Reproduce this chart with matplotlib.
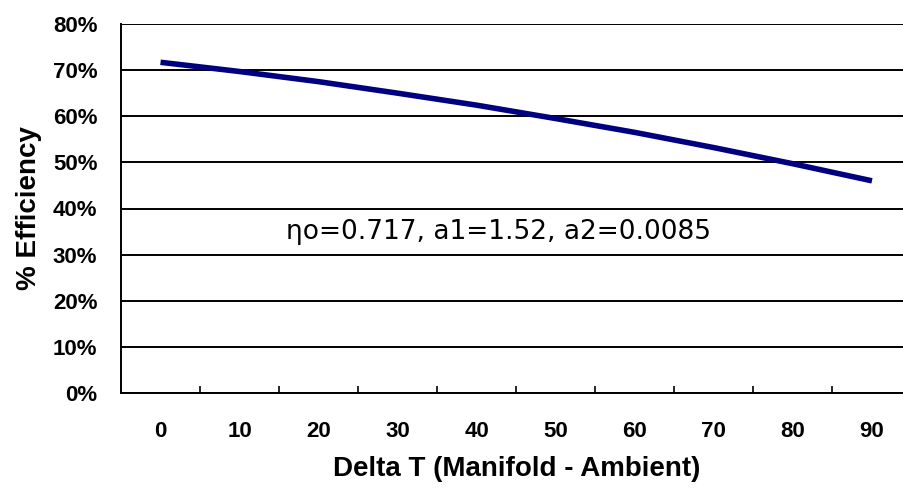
import numpy as np
import matplotlib.pyplot as plt
from matplotlib.ticker import FixedLocator, PercentFormatter

# values
delta_t = [0, 10, 20, 30, 40, 50, 60, 70, 80, 90]
efficiency = [0.717, 0.697, 0.675, 0.650, 0.624, 0.595, 0.565, 0.532, 0.497, 0.460]
y_ticks = [0, 0.1, 0.2, 0.3, 0.4, 0.5, 0.6, 0.7, 0.8]
coef_text = "\u03b7o=0.717, a1=1.52, a2=0.0085"

plt.rcParams["font.family"] = ["Liberation Sans", "DejaVu Sans"]

fig = plt.figure(figsize=(9.04, 4.93), dpi=100)
ax = fig.add_axes([121 / 904, 100 / 493, 790.5 / 904, 369 / 493])

x = np.arange(len(delta_t))
ax.plot(x, efficiency, color="#000080", linewidth=4, solid_capstyle="butt")

ax.set_xlim(-0.5, len(delta_t) - 0.5)
ax.set_ylim(0, 0.8)
ax.set_yticks(y_ticks)
ax.yaxis.set_major_formatter(PercentFormatter(1.0, decimals=0))
ax.grid(axis="y", color="black", linewidth=1.4)
ax.set_axisbelow(True)

ax.set_xticks(x)
ax.set_xticklabels([str(v) for v in delta_t])
ax.xaxis.set_minor_locator(FixedLocator(x[:-1] + 0.5))
ax.tick_params(axis="x", which="major", length=0, pad=20, labelsize=16)
ax.tick_params(axis="x", which="minor", direction="in", length=5, width=1.2, color="black")
ax.tick_params(axis="y", length=0, pad=17, labelsize=16)
for lab in ax.get_xticklabels() + ax.get_yticklabels():
    lab.set_fontweight("bold")

for side in ["top", "right"]:
    ax.spines[side].set_visible(False)
ax.spines["left"].set_linewidth(1.4)
ax.spines["bottom"].set_linewidth(1.4)

ax.set_xlabel("Delta T (Manifold - Ambient)", fontsize=20, fontweight="bold", labelpad=10)
ax.set_ylabel("% Efficiency", fontsize=20, fontweight="bold", labelpad=8)

ax.text(4.28, 0.348, coef_text, fontsize=19, ha="center", va="center",
        family=["DejaVu Sans"])

fig.savefig("out.png", dpi=100)
